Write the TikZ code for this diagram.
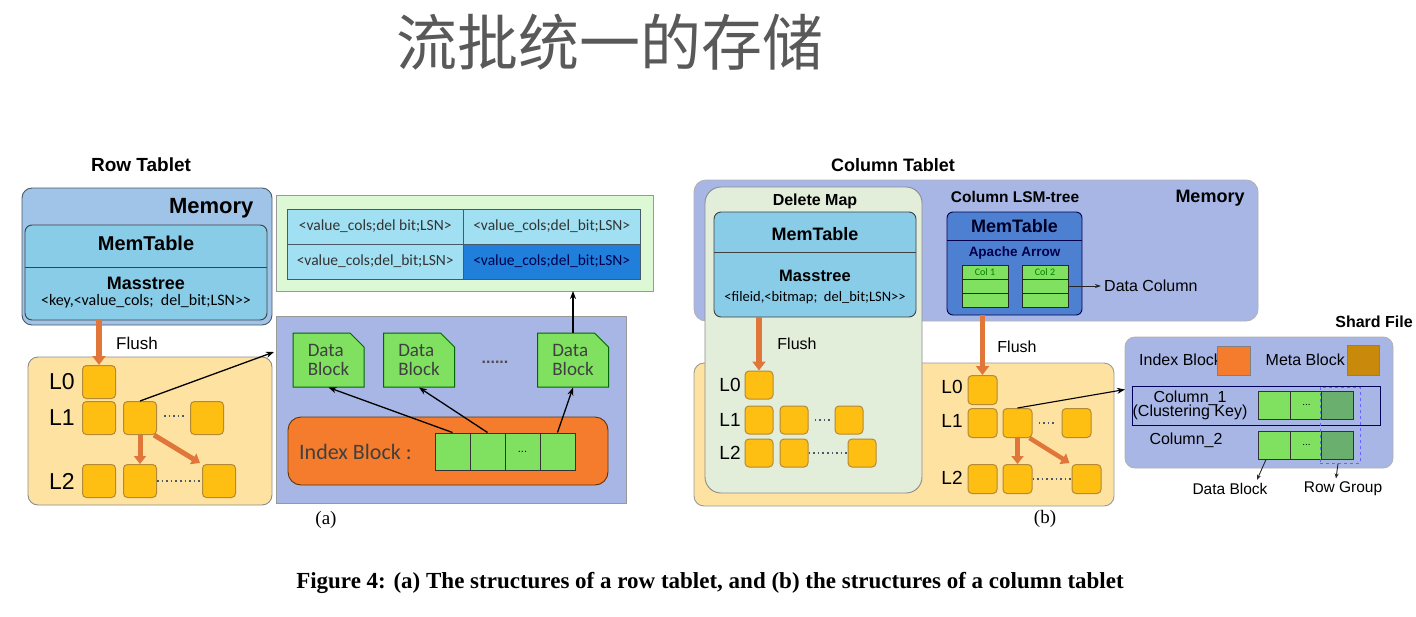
\documentclass[tikz,border=0pt]{standalone}
\usepackage{fontspec}
\setmainfont{Liberation Serif}
\setsansfont{Liberation Sans}
\newfontfamily\cjkfont{Noto Sans CJK SC}
\newfontfamily\calib{Carlito}
\usetikzlibrary{shapes.misc,arrows.meta,calc}
\newcommand\fsz[1]{\fontsize{#1}{#1}\selectfont}
\definecolor{memL}{HTML}{9FC4E7}
\definecolor{memtab}{HTML}{88CCE8}
\definecolor{peri}{HTML}{A8B6E6}
\definecolor{delmap}{HTML}{E2EDDA}
\definecolor{disk}{HTML}{FDE2A2}
\definecolor{sq}{HTML}{FFBE12}
\definecolor{sqd}{HTML}{B38A35}
\definecolor{flushc}{HTML}{E0763A}
\definecolor{gbox}{HTML}{DDF8D5}
\definecolor{cellc}{HTML}{A0E0F2}
\definecolor{celld}{HTML}{1F7FDA}
\definecolor{dbg}{HTML}{80E060}
\definecolor{idxo}{HTML}{F47C2C}
\definecolor{colmt}{HTML}{4E80D2}
\definecolor{metab}{HTML}{C9890B}
\definecolor{rgc}{HTML}{6BAF6E}
\definecolor{edge}{HTML}{4A5868}
\tikzset{
  box/.style={draw=edge, line width=0.9pt, inner sep=0pt, outer sep=0pt},
  sqbox/.style={draw=sqd, fill=sq, line width=1pt, rounded corners=4pt, inner sep=0pt, minimum size=#1},
  flush/.style={draw=flushc, line width=5.5pt, -{Triangle[width=13pt,length=9pt]}},
  orarr/.style={draw=flushc, line width=5pt, -{Triangle[width=12pt,length=8pt]}},
  blk/.style={draw=black, line width=1.1pt, -{Stealth[length=8pt,width=6pt]}},
  lbl/.style={font=\sffamily\fsz{23}, inner sep=0pt},
  lbls/.style={font=\sffamily\fsz{19}, inner sep=0pt},
  dotl/.style={draw=edge, line width=1.6pt, dash pattern=on 1.6pt off 3pt},
  cell/.style={draw=edge, line width=0.9pt, fill=cellc, minimum width=176.5pt, minimum height=35pt, inner sep=0pt, font=\calib\fsz{15.5}, text=black!80},
  icell/.style={draw=black!80, line width=1pt, fill=dbg, minimum width=35pt, minimum height=37pt, inner sep=0pt},
  ccell/.style={draw=black!85, line width=1pt, fill=dbg, minimum width=46pt, minimum height=14pt, inner sep=0pt},
  scell/.style={draw=black!80, line width=1pt, fill=dbg, minimum width=32pt, minimum height=28pt, inner sep=0pt},
  datablk/.style={chamfered rectangle, chamfered rectangle corners=north east, chamfered rectangle xsep=7pt, chamfered rectangle ysep=7pt, draw=black!60!green, line width=1pt, fill=dbg, minimum width=71pt, minimum height=54pt, inner sep=0pt, align=left, font=\calib\fsz{19}, text=black!75}
}
\begin{document}
\begin{tikzpicture}[x=1pt,y=-1pt]
\useasboundingbox[fill=white] (0,0) rectangle (1416,616);
% title
\node[font=\cjkfont\fsz{61}, text=black!65] (title) at (610,42) {流批统一的存储};

% ================= Row tablet =================
\node[font=\sffamily\bfseries\fsz{19}] (rt) at (141,165) {Row Tablet};
\node[box, fill=memL, rounded corners=10pt, minimum width=250pt, minimum height=137pt] (mem) at (147,256.5) {};
\node[font=\sffamily\bfseries\fsz{22}, anchor=east] (memlbl) at (257,208) {Memory};
\node[box, draw=black!75, fill=memtab, rounded corners=7pt, minimum width=242pt, minimum height=95pt] (mt) at (146,272.5) {};
\draw[black!75, line width=1pt] (mt.west |- 0,267) coordinate (mtd1) -- (mt.east |- mtd1);
\node[font=\sffamily\bfseries\fsz{20}] (mtl) at (146,243) {MemTable};
\node[font=\sffamily\bfseries\fsz{18}] (mst) at (146,283) {Masstree};
\node[font=\calib\fsz{16}] (mstk) at (146,301) {<key,<value\_cols;\ \ del\_bit;LSN>{}>};

\node[box, draw=black!45, fill=disk, rounded corners=10pt, minimum width=244pt, minimum height=148pt] (dk) at (150,431) {};
\node[lbl] (L0) at (62,382) {L0};
\node[lbl] (L1) at (62,418) {L1};
\node[lbl] (L2) at (62,481) {L2};
\node[sqbox=33pt] (a0) at (99,382) {};
\node[sqbox=33pt] (a1a) at (99,418) {};
\node[sqbox=33pt] (a1b) at (140,418) {};
\node[sqbox=33pt] (a1c) at (207,418) {};
\node[sqbox=33pt] (a2a) at (99,481) {};
\node[sqbox=33pt] (a2b) at (140,481) {};
\node[sqbox=33pt] (a2c) at (219,481) {};
\draw[dotl] ([xshift=7pt,yshift=2pt]a1b.east) -- ([xshift=-6pt,yshift=2pt]a1c.west);
\draw[dotl] (a2b.east) -- (a2c.west);
\draw[flush] (mt.south -| a0.north) -- (a0.north);
\node[font=\sffamily\fsz{17}] (fl1) at (137,343) {Flush};
\draw[orarr] (a1b.south) -- (a2b.north);
\draw[orarr] ([xshift=-3pt]a1b.south east) -- ([xshift=-2pt,yshift=1pt]a2c.north west);

% green table
\node[box, draw=black!40, fill=gbox, minimum width=377pt, minimum height=96pt] (gt) at (464.5,243) {};
\node[cell] (c11) at (375.25,226.5) {<value\_cols;del bit;LSN>};
\node[cell] (c12) at (551.75,226.5) {<value\_cols;del\_bit;LSN>};
\node[cell] (c21) at (375.25,261.5) {<value\_cols;del\_bit;LSN>};
\node[cell, fill=celld, text=black!70!blue] (c22) at (551.75,261.5) {<value\_cols;del\_bit;LSN>};

% SST box
\node[box, draw=black!40, fill=peri, minimum width=350pt, minimum height=187pt] (sst) at (451,409.5) {};
\node[datablk] (db1) at (328.5,360) {Data\\Block};
\node[datablk] (db2) at (419,360) {Data\\Block};
\node[datablk] (db3) at (573,360) {Data\\Block};
\node[font=\sffamily\bfseries\fsz{16}, text=black!70] (dots1) at (495,362) {......};
\node[box, draw=black!60!orange, fill=idxo, rounded corners=13pt, minimum width=320pt, minimum height=68pt] (ib) at (448,451) {};
\node[font=\calib\fsz{22}, text=black!75, anchor=west, inner sep=0pt] (ibl) at (299,452) {Index Block :};
\node[icell] (i1) at (452.5,451.5) {};
\node[icell] (i2) at (487.5,451.5) {};
\node[icell, font=\sffamily\fsz{11}] (i3) at (522.5,451.5) {...};
\node[icell] (i4) at (557.5,451.5) {};
\draw[blk, line width=1.3pt] (i1.north) -- (db1.south);
\draw[blk, line width=1.3pt] (i2.north) -- (db2.south);
\draw[blk, line width=1.3pt] (i4.north) -- (db3.south);
\draw[blk, line width=1.3pt] (db3.north) -- (db3.north |- gt.south);
\draw[blk, line width=1.3pt] (a1b.north) -- ($(sst.north west)+(-2,36)$);
\node[font=\rmfamily\fsz{19}] (capa) at (326,520) {(a)};

% ================= Column tablet =================
\node[font=\sffamily\bfseries\fsz{18}] (ct) at (893,165) {Column Tablet};
\node[box, draw=black!30, fill=peri, rounded corners=12pt, minimum width=564pt, minimum height=141pt] (cmem) at (976,250.5) {};
\node[font=\sffamily\bfseries\fsz{18}] (cmeml) at (1210,198) {Memory};
\node[box, draw=black!40, fill=disk, rounded corners=10pt, minimum width=420pt, minimum height=143pt] (cdk) at (904,434.5) {};
\node[box, draw=black!45, fill=delmap, rounded corners=16pt, minimum width=217pt, minimum height=306pt] (dm) at (813.5,340) {};
\node[font=\sffamily\bfseries\fsz{16}] (dml) at (815,201) {Delete Map};
\node[box, draw=black!75, fill=memtab, rounded corners=7pt, minimum width=202pt, minimum height=105pt] (dmt) at (815,264.5) {};
\draw[black!75, line width=1pt] (dmt.west |- 0,252) coordinate (mtd2) -- (dmt.east |- mtd2);
\node[font=\sffamily\bfseries\fsz{18}] (dmtl) at (815,234) {MemTable};
\node[font=\sffamily\bfseries\fsz{16.5}] (dmst) at (815,276) {Masstree};
\node[font=\calib\fsz{14.5}] (dmstk) at (815,298) {<fileid,<bitmap;\ \ del\_bit;LSN>{}>};

\node[lbls] (dL0) at (730,385) {L0};
\node[lbls] (dL1) at (730,420) {L1};
\node[lbls] (dL2) at (730,453) {L2};
\node[sqbox=28pt] (d0) at (759,385) {};
\node[sqbox=28pt] (d1a) at (759,420) {};
\node[sqbox=28pt] (d1b) at (794,420) {};
\node[sqbox=28pt] (d1c) at (849,420) {};
\node[sqbox=28pt] (d2a) at (759,453) {};
\node[sqbox=28pt] (d2b) at (794,453) {};
\node[sqbox=28pt] (d2c) at (862,453) {};
\draw[dotl] ([xshift=6pt]d1b.east) -- ([xshift=-4pt]d1c.west);
\draw[dotl] (d2b.east) -- (d2c.west);
\draw[flush] (dmt.south -| d0.north) -- (d0.north);
\node[font=\sffamily\fsz{16}] (fl2) at (797,344) {Flush};

% column LSM memtable
\node[font=\sffamily\bfseries\fsz{15.5}] (clsm) at (1015,197) {Column LSM-tree};
\node[box, draw=black!70!blue, fill=colmt, rounded corners=6pt, minimum width=135pt, minimum height=103pt] (cmt) at (1014.5,263.5) {};
\draw[black!70!blue, line width=1pt] (cmt.west |- 0,240) coordinate (mtd3) -- (cmt.east |- mtd3);
\node[font=\sffamily\bfseries\fsz{18}, text=black!85!blue] (cmtl) at (1014.5,226) {MemTable};
\node[font=\sffamily\bfseries\fsz{13.5}, text=black!70!blue] (arrow) at (1014.5,253) {Apache Arrow};
\node[ccell, font=\calib\fsz{10}, text=black!50!green] (k1a) at (985,272) {Col 1};
\node[ccell] (k1b) at (985,286) {};
\node[ccell] (k1c) at (985,300.5) {};
\node[ccell, font=\calib\fsz{10}, text=black!50!green] (k2a) at (1045,272) {Col 2};
\node[ccell] (k2b) at (1045,286) {};
\node[ccell] (k2c) at (1045,300.5) {};
\node[font=\sffamily\fsz{16}, anchor=west, inner sep=0pt] (dcol) at (1104,286) {Data Column};
\draw[black!85, line width=1pt, -{Stealth[length=6pt,width=4pt]}] (k2b.east) -- ([xshift=-3pt]dcol.west);

\node[lbls] (cL0) at (952,387) {L0};
\node[lbls] (cL1) at (952,421) {L1};
\node[lbls] (cL2) at (952,478) {L2};
\node[sqbox=29pt] (r0) at (982.5,390) {};
\node[sqbox=29pt] (r1a) at (982.5,423) {};
\node[sqbox=29pt] (r1b) at (1017.5,423) {};
\node[sqbox=29pt] (r1c) at (1076.5,423) {};
\node[sqbox=29pt] (r2a) at (982.5,479) {};
\node[sqbox=29pt] (r2b) at (1017.5,479) {};
\node[sqbox=29pt] (r2c) at (1086.5,479) {};
\draw[dotl] ([xshift=6pt]r1b.east) -- ([xshift=-5pt]r1c.west);
\draw[dotl] (r2b.east) -- (r2c.west);
\draw[flush] (cmt.south -| r0.north) -- (r0.north);
\node[font=\sffamily\fsz{16}] (fl3) at (1017,347) {Flush};
\draw[orarr, line width=4.5pt] (r1b.south) -- (r2b.north);
\draw[orarr, line width=4.5pt] ([xshift=-3pt]r1b.south east) -- ([xshift=-2pt,yshift=1pt]r2c.north west);

% shard file
\node[font=\sffamily\bfseries\fsz{16}] (sfl) at (1374,322) {Shard File};
\node[box, draw=black!30, fill=peri, rounded corners=10pt, minimum width=268pt, minimum height=131pt] (sf) at (1259,402.5) {};
\node[font=\sffamily\fsz{16}, anchor=west, inner sep=0pt] (ibt) at (1139,360) {Index Block};
\node[draw=black!50, fill=idxo, minimum width=33pt, minimum height=29pt, inner sep=0pt] (ibs) at (1233.5,360.5) {};
\node[font=\sffamily\fsz{16}, anchor=east, inner sep=0pt] (mbt) at (1345,360) {Meta Block};
\node[draw=black!50, fill=metab, minimum width=32pt, minimum height=30pt, inner sep=0pt] (mbs) at (1363,360) {};
\node[draw=black!65!blue, line width=1pt, minimum width=248pt, minimum height=39pt, inner sep=0pt] (c1row) at (1256,405.5) {};
\node[font=\sffamily\fsz{16}, align=center, inner sep=0pt] (c1t) at (1190,405.5) {Column\_1\\[-2pt](Clustering Key)};
\node[scell] (s1a) at (1274,405) {};
\node[scell, font=\sffamily\fsz{10}] (s1b) at (1306.5,405) {...};
\node[scell, fill=rgc] (s1c) at (1337.5,405) {};
\node[font=\sffamily\fsz{16}, inner sep=0pt] (c2t) at (1186,440) {Column\_2};
\node[scell] (s2a) at (1274,445) {};
\node[scell, font=\sffamily\fsz{10}] (s2b) at (1306.5,445) {...};
\node[scell, fill=rgc] (s2c) at (1337.5,445) {};
\node[draw=blue!60, line width=1pt, dashed, minimum width=40pt, minimum height=76pt, inner sep=0pt] (rg) at (1340,425) {};
\node[font=\sffamily\fsz{15.5}] (dbt) at (1230,489) {Data Block};
\node[font=\sffamily\fsz{15.5}] (rgt) at (1343,489) {Row Group};
\draw[black!85, line width=0.9pt, -{Stealth[length=5pt,width=4pt]}] ([xshift=-8pt]s2a.south) -- ([xshift=27pt]dbt.north);
\draw[black!85, line width=0.9pt, -{Stealth[length=5pt,width=4pt]}] ([xshift=-2pt]rg.south) -- ([xshift=-7pt]rgt.north);
\draw[blk, line width=1.1pt] (r1b.north) -- ($(sf.west |- c1row.north)+(0,4)$);
\node[font=\rmfamily\fsz{19}] (capb) at (1045,519) {(b)};

% caption
\node[font=\rmfamily\bfseries\fsz{23}] (cap) at (710,583) {Figure 4: (a) The structures of a row tablet, and (b) the structures of a column tablet};
\end{tikzpicture}
\end{document}
